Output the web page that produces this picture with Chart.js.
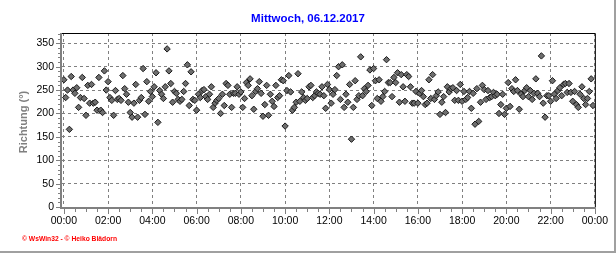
<!DOCTYPE html>
<html lang="de">
<head>
<meta charset="UTF-8">
<title>Windrichtung - Mittwoch, 06.12.2017</title>
<script src="https://cdn.jsdelivr.net/npm/chart.js"></script>
<style>
  html, body { margin: 0; padding: 0; background: #ffffff; }
  #wrap { width: 616px; height: 253px; position: relative; }
</style>
</head>
<body>
<div id="wrap"><canvas id="chart" width="616" height="253"></canvas></div>
<script>
const chartTitle = 'Mittwoch, 06.12.2017';
const yAxisTitle = 'Richtung (°)';
const footerText = '© WsWin32 - © Heiko Blädorn';

// one reading every 5 minutes, starting at 00:00
const stepMinutes = 5;
const xTickMinutes = [0, 120, 240, 360, 480, 600, 720, 840, 960, 1080, 1200, 1320, 1440];
const xTickLabels = ['00:00', '02:00', '04:00', '06:00', '08:00', '10:00', '12:00',
                     '14:00', '16:00', '18:00', '20:00', '22:00', '00:00'];
const yTickValues = [0, 50, 100, 150, 200, 250, 300, 350];

// wind direction in degrees
const directions = [
  272,234,250,166,279,250,243,255,213,234, 277,232,196,260,222,262,222,224,207,277,
  207,202,291,250,268,234,228,196,249,230, 232,228,281,253,241,224,202,192,222,262,
  192,228,234,296,198,268,226,247,236,257, 287,181,249,241,232,257,338,291,264,224,
  247,243,230,226,230,247,264,304,217,289, 230,228,
  207,241,234,249,251,236,230,241,257,213, 222,228,232,200,241,217,264,260,241,213,
  243,243,257,241,246,213,232,266,260,274, 238,209,247,253,268,243,194,219,260,196,
  241,226,215,260,234,238,272,270,173,249, 281,246,207,213,224,285,226,246,234,228,
  232,257,260,234,238,246,243,241,257,238, 211,262,
  251,222,241,251,281,300,230,304,213,241, 224,262,145,213,270,230,238,321,238,253,
  247,260,293,217,296,270,232,272,226,236, 247,315,266,266,236,277,266,287,224,283,
  257,226,283,279,257,222,222,247,222,243, 249,236,219,222,272,232,283,230,238,246,
  198,224,236,202,257,246,253,255,228,249, 228,262,
  226,247,230,234,247,211,243,177,253,183, 224,260,251,230,249,234,236,245,238,241,
  200,219,241,198,211,266,215,253,247,272, 249,209,241,236,249,255,236,249,230,243,
  274,243,236,323,222,192,238,238,226,270, 241,232,249,255,238,262,264,245,264,245,
  226,247,219,213,241,257,232,219,232,247, 274,217
];

const points = directions.map((v, i) => ({ x: i * stepMinutes, y: v }));

// axis lines, small ticks, texts and outer frame
const framePlugin = {
  id: 'frame',
  afterDraw(chart) {
    const ctx = chart.ctx;
    const { left, right, top, bottom } = chart.chartArea;
    const xs = chart.scales.x;
    const ys = chart.scales.y;
    ctx.save();

    // top and right border
    ctx.strokeStyle = '#000000';
    ctx.lineWidth = 1;
    ctx.beginPath();
    ctx.moveTo(left, top + 0.5);
    ctx.lineTo(right + 0.5, top + 0.5);
    ctx.lineTo(right + 0.5, bottom);
    ctx.stroke();

    // gray axis lines
    ctx.fillStyle = '#808080';
    ctx.fillRect(left - 2, top, 2, bottom - top + 2);
    ctx.fillRect(left - 2, bottom, right - left + 3, 2);

    // y ticks every 10, longer every 50
    for (let v = 0; v <= 370; v += 10) {
      const y = Math.round(ys.getPixelForValue(v));
      const len = v % 50 === 0 ? 4 : 2;
      ctx.fillRect(left - 2 - len, y, len, 1);
    }
    // x ticks every 30 min, longer every 2 h
    for (let m = 0; m <= 1440; m += 30) {
      const x = Math.round(xs.getPixelForValue(m));
      const len = m % 120 === 0 ? 5 : 3;
      ctx.fillRect(x, bottom + 2, 1, len);
    }

    // title
    ctx.fillStyle = '#0000ff';
    ctx.font = 'bold 11.5px "Liberation Sans", Arial, sans-serif';
    ctx.textAlign = 'center';
    ctx.textBaseline = 'middle';
    ctx.fillText(chartTitle, 308, 19);

    // y axis title
    ctx.save();
    ctx.translate(24, 122);
    ctx.rotate(-Math.PI / 2);
    ctx.fillStyle = '#808080';
    ctx.font = 'bold 11px "Liberation Sans", Arial, sans-serif';
    ctx.fillText(yAxisTitle, 0, 0);
    ctx.restore();

    // footer
    ctx.fillStyle = '#ff0000';
    ctx.font = 'bold 7px "Liberation Sans", Arial, sans-serif';
    ctx.textAlign = 'left';
    ctx.fillText(footerText, 22, 239, 95);

    // outer frame (right and bottom)
    ctx.fillStyle = '#a0a0a0';
    ctx.fillRect(614, 0, 2, 253);
    ctx.fillRect(0, 251, 616, 2);

    ctx.restore();
  }
};

new Chart(document.getElementById('chart'), {
  type: 'scatter',
  data: {
    datasets: [{
      label: 'Richtung',
      data: points,
      pointStyle: 'rectRot',
      pointRadius: 3.2,
      pointBackgroundColor: '#6e6e6e',
      pointBorderColor: '#1a1a1a',
      pointBorderWidth: 1
    }]
  },
  options: {
    responsive: false,
    animation: false,
    devicePixelRatio: 1,
    layout: { padding: { left: 0, top: 33, right: 19, bottom: 0 } },
    plugins: {
      legend: { display: false },
      tooltip: { enabled: false },
      title: { display: false }
    },
    scales: {
      x: {
        type: 'linear',
        min: -5,
        max: 1440,
        afterBuildTicks: axis => { axis.ticks = xTickMinutes.map(v => ({ value: v })); },
        afterFit: scale => { scale.height = 46; },
        ticks: {
          callback: (value, index) => xTickLabels[index],
          color: '#000000',
          font: { family: '"Liberation Sans", Arial, sans-serif', size: 10.5 },
          padding: 8,
          maxRotation: 0,
          autoSkip: false
        },
        grid: { color: '#808080', drawTicks: false },
        border: { display: false, dash: [3, 3] }
      },
      y: {
        min: 0,
        max: 372,
        afterBuildTicks: axis => { axis.ticks = yTickValues.map(v => ({ value: v })); },
        afterFit: scale => { scale.width = 62; },
        ticks: {
          color: '#000000',
          font: { family: '"Liberation Sans", Arial, sans-serif', size: 10.5 },
          padding: 8
        },
        grid: { color: '#808080', drawTicks: false },
        border: { display: false, dash: [3, 3] }
      }
    }
  },
  plugins: [framePlugin]
});
</script>
</body>
</html>
